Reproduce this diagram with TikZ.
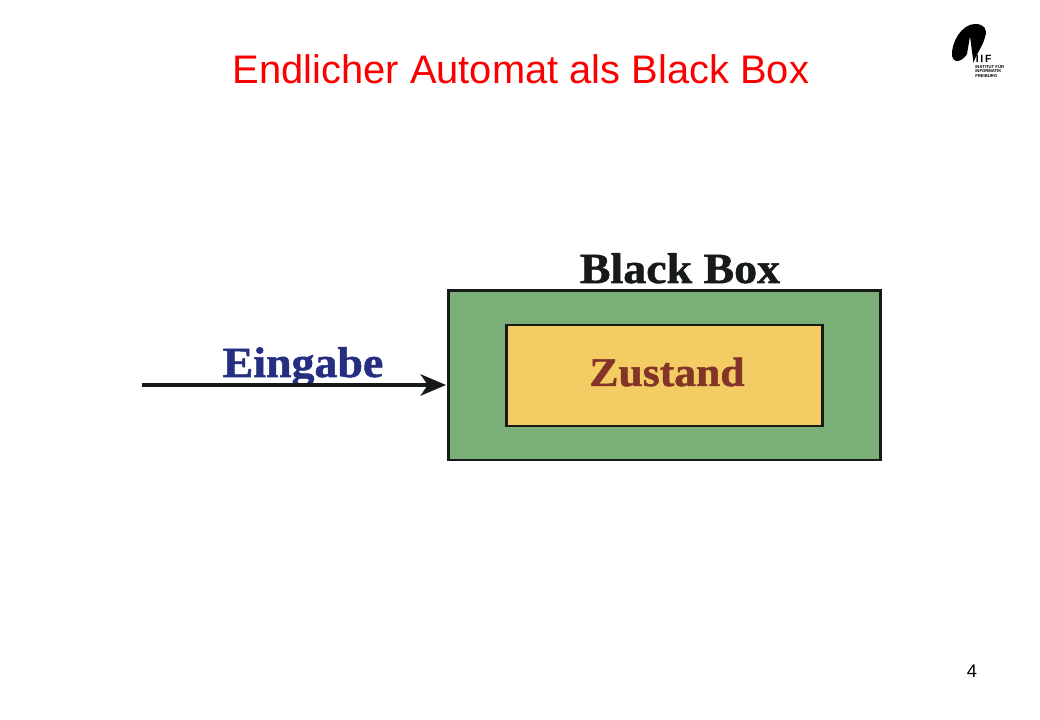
\documentclass[tikz,border=0pt]{standalone}
\usepackage{fontspec}
\setmainfont{Liberation Sans}
\newfontfamily\serifbold[FakeBold=1.2,FakeStretch=1.07]{Liberation Serif Bold}
\usetikzlibrary{shapes,arrows,arrows.meta,positioning}
\definecolor{boxgreen}{RGB}{122,176,120}
\definecolor{boxyellow}{RGB}{244,204,100}
\definecolor{titlered}{RGB}{250,0,0}
\definecolor{inputblue}{RGB}{38,46,130}
\definecolor{statebrown}{RGB}{130,52,40}
\definecolor{boxblack}{RGB}{22,26,24}
\tikzstyle{box} = [rectangle, draw=boxblack, line width=2.1pt, inner sep=0pt]
\tikzstyle{line} = [draw=boxblack, line width=3.2pt, -{Stealth[length=18pt,width=15pt,inset=5pt]}, shorten >=1pt]
\tikzstyle{caption} = [font=\fontsize{30.5}{30.5}\selectfont\serifbold, inner sep=0pt, anchor=base]
\begin{document}
\begin{tikzpicture}[x=0.025cm, y=-0.025cm]
	\useasboundingbox (0,0) rectangle (1040,720);

	% title and page number
	\node [text=titlered, font=\fontsize{28.35}{28.35}\selectfont, inner sep=0pt, anchor=base] (title) at (521,83.5) {Endlicher Automat als Black Box};
	\node [font=\fontsize{13}{13}\selectfont, inner sep=0pt, anchor=base] (page) at (972,677) {4};

	% logo
	\fill (952,56) .. controls (951,42) and (962,24) .. (975,24) .. controls (984,24) and (988,29) .. (985,37)
		.. controls (983,46) and (976,54) .. (973.5,63) -- (970,36) -- (967,54) .. controls (964,59) and (955,66) .. (952,56) -- cycle;
	\node [font=\fontsize{7.5}{7.5}\selectfont\bfseries, inner sep=0pt, anchor=base west] (iif) at (975.5,62.5) {I\,I\,F};
	\node [font=\fontsize{3}{2.9}\selectfont\bfseries, align=left, inner sep=0pt, anchor=north west] (inst) at (975,65) {INSTITUT FÜR\\INFORMATIK\\FREIBURG};

	% boxes
	\node [box, fill=boxgreen, minimum width=10.775cm, minimum height=4.225cm] (blackbox) at (664.5,375.5) {};
	\node [box, fill=boxyellow, minimum width=7.875cm, minimum height=2.525cm] (state) at (664.5,375.5) {};

	% labels
	\node [caption, text=boxblack] (blacklabel) at (680,283) {Black Box};
	\node [caption, text=statebrown, font=\fontsize{29}{29}\selectfont\serifbold] (statelabel) at (667,386) {Zustand};
	\node [caption, text=inputblue] (inputlabel) at (303,377) {Eingabe};

	% input
	\coordinate (start) at (142,385);
	\path [line] (start) -- (start -| blackbox.west);
\end{tikzpicture}
\end{document}
